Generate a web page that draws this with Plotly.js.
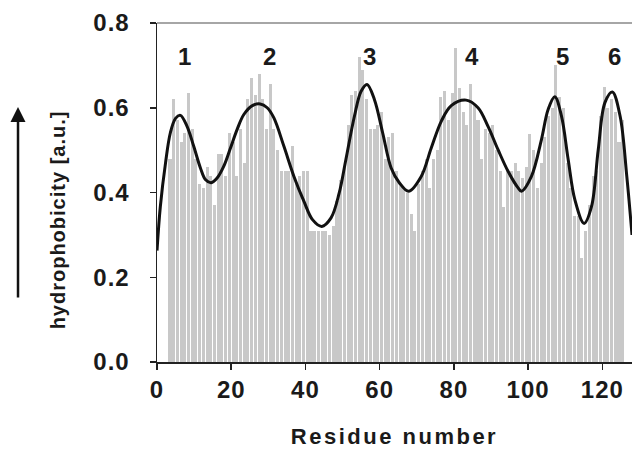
<!DOCTYPE html>
<html>
<head>
<meta charset="utf-8">
<script src="https://cdn.plot.ly/plotly-3.0.1.min.js"></script>
<style>html,body{margin:0;padding:0;background:#fff;}#chart{width:632px;height:454px;}</style>
</head>
<body>
<div id="chart"></div>
<script>
// Per-residue hydrophobicity (bars), starting at residue 3
const firstResidue = 3;
const hydrophobicity = [
  0.48, 0.62, 0.57, 0.52, 0.54, 0.635, 0.55, 0.48, 0.42, 0.41,
  0.46, 0.44, 0.37, 0.49, 0.49, 0.44, 0.54, 0.52, 0.44, 0.55,
  0.47, 0.62, 0.67, 0.63, 0.68, 0.62, 0.55, 0.655, 0.55, 0.50,
  0.45, 0.45, 0.45, 0.51, 0.42, 0.44, 0.45, 0.45, 0.31, 0.31,
  0.31, 0.31, 0.31, 0.30, 0.32, 0.38, 0.43, 0.46, 0.56, 0.63,
  0.64, 0.72, 0.69, 0.62, 0.55, 0.55, 0.56, 0.59, 0.48, 0.53,
  0.54, 0.45, 0.42, 0.41, 0.40, 0.35, 0.31, 0.42, 0.45, 0.48,
  0.41, 0.48, 0.50, 0.625, 0.64, 0.57, 0.635, 0.74, 0.647, 0.59,
  0.56, 0.655, 0.61, 0.57, 0.48, 0.55, 0.54, 0.56, 0.50, 0.45,
  0.365, 0.45, 0.45, 0.47, 0.45, 0.435, 0.46, 0.537, 0.50, 0.41,
  0.47, 0.53, 0.58, 0.60, 0.70, 0.625, 0.60, 0.47, 0.41, 0.345,
  0.345, 0.245, 0.31, 0.37, 0.44, 0.45, 0.58, 0.65, 0.60, 0.62,
  0.59, 0.52, 0.57
];
const residues = hydrophobicity.map((_, i) => firstResidue + i);

// Smoothed fit curve
const fitX = [0, 0.9, 2.3, 3.6, 5.0, 6.3, 8.1, 9.9, 11.7, 13.1, 14.6, 16.2, 18.0, 19.8, 21.6,
  23.4, 25.7, 27.8, 29.7, 31.5, 34.2, 36.9, 39.6, 41.9, 44.4, 46.9, 49.1, 50.9, 53.2, 55.0,
  56.6, 58.6, 60.8, 63.1, 65.3, 67.8, 71.2, 73.9, 76.6, 79.3, 83.3, 86.5, 89.2, 91.9, 94.6,
  97.3, 98.2, 100.9, 103.6, 105.4, 107.2, 109.0, 110.8, 112.6, 115.1, 117.1, 118.9, 120.7,
  122.7, 124.8, 126.6, 128];
const fitY = [0.263, 0.367, 0.47, 0.541, 0.575, 0.582, 0.556, 0.509, 0.458, 0.43, 0.423, 0.434,
  0.462, 0.505, 0.549, 0.584, 0.605, 0.609, 0.60, 0.576, 0.509, 0.438, 0.379, 0.336, 0.32,
  0.34, 0.399, 0.478, 0.58, 0.639, 0.655, 0.619, 0.541, 0.458, 0.423, 0.403, 0.438, 0.505,
  0.568, 0.605, 0.618, 0.60, 0.556, 0.501, 0.45, 0.411, 0.403, 0.438, 0.525, 0.596, 0.626,
  0.58, 0.478, 0.383, 0.327, 0.367, 0.501, 0.612, 0.637, 0.58, 0.438, 0.30];

// Peak labels
const peakLabels = ["1", "2", "3", "4", "5", "6"];
const peakX = [7.5, 30.2, 57.2, 84.8, 109.4, 123.4];
const peakY = [0.72, 0.72, 0.72, 0.72, 0.72, 0.72];

const xTicks = [0, 20, 40, 60, 80, 100, 120];
const yTicks = [0.0, 0.2, 0.4, 0.6, 0.8];

const FONT = "Liberation Sans, Arial, sans-serif";
const INK = "#1a1a1a";

const traces = [
  {
    type: "bar", x: residues, y: hydrophobicity,
    marker: {color: "#c8c8c8", line: {width: 0}},
    width: 0.82, offset: 0.09,
    hoverinfo: "skip"
  },
  {
    type: "scatter", mode: "lines", x: fitX, y: fitY,
    line: {color: "#111111", width: 3, shape: "spline", smoothing: 1},
    hoverinfo: "skip"
  }
];

const annotations = peakLabels.map((t, i) => ({
  x: peakX[i], y: peakY[i], xref: "x", yref: "y", text: t, showarrow: false,
  font: {family: FONT, size: 24, color: INK, weight: "bold"}
}));

// y-axis title
annotations.push({
  xref: "paper", yref: "paper", x: -0.21, y: 0.42, text: "hydrophobicity [a.u.]",
  textangle: -90, showarrow: false, xanchor: "center", yanchor: "middle",
  font: {family: FONT, size: 20, color: INK, weight: "bold"}
});
// arrow
annotations.push({
  xref: "paper", yref: "paper", x: -0.2926, y: 0.752, ax: 0, ay: 192,
  text: "", showarrow: true, arrowhead: 2, arrowsize: 1.2, arrowwidth: 2.5, arrowcolor: "#111111"
});

const layout = {
  width: 632, height: 454,
  margin: {l: 157, r: 0, t: 23, b: 92},
  paper_bgcolor: "#ffffff", plot_bgcolor: "#ffffff",
  showlegend: false,
  bargap: 0,
  xaxis: {
    range: [0, 128], tickvals: xTicks, ticktext: xTicks.map(String),
    showgrid: false, zeroline: false,
    showline: true, linecolor: "#222222", linewidth: 1.5,
    ticks: "outside", ticklen: 6, tickwidth: 1.5, tickcolor: "#222222",
    tickfont: {family: FONT, size: 24, color: INK, weight: "bold"},
    title: {text: "Residue number", standoff: 26,
      font: {family: FONT, size: 22, color: INK, weight: "bold"}}
  },
  yaxis: {
    range: [0, 0.8], tickvals: yTicks, ticktext: yTicks.map(v => v.toFixed(1)),
    showgrid: false, zeroline: false,
    showline: true, linecolor: "#222222", linewidth: 1.5,
    ticks: "outside", ticklen: 6, tickwidth: 1.5, tickcolor: "#222222",
    ticklabelstandoff: 15,
    tickfont: {family: FONT, size: 24, color: INK, weight: "bold"}
  },
  shapes: [
    {type: "line", xref: "paper", yref: "paper", x0: 0, x1: 1, y0: 1, y1: 1,
      line: {color: "#888888", width: 1.5}}
  ],
  annotations: annotations
};

Plotly.newPlot("chart", traces, layout, {staticPlot: true, displayModeBar: false}).then(gd => {
  gd.querySelectorAll(".g-xtitle text").forEach(t => t.style.letterSpacing = "2.5px");
  gd.querySelectorAll(".annotation-text").forEach(t => {
    if (t.textContent.indexOf("hydro") === 0) t.style.letterSpacing = "1px";
  });
  gd.querySelectorAll(".xtick text, .ytick text").forEach(t => t.style.letterSpacing = "1px");
});
</script>
</body>
</html>
